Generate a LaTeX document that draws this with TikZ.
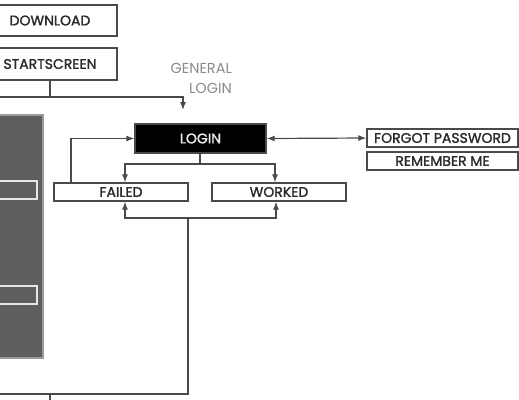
\documentclass[tikz,border=0pt]{standalone}
\usepackage{fontspec}
\setmainfont{Poppins}
\newfontfamily\labelfont{Poppins}[FakeBold=1.5]
\usetikzlibrary{arrows.meta}
\definecolor{ink}{HTML}{2A2A2A}
\definecolor{wire}{HTML}{4A4A4A}
\definecolor{panel}{HTML}{5E5E60}
\definecolor{paneledge}{HTML}{9A9A9A}
\definecolor{soft}{HTML}{8A8A8A}
\tikzset{
  box/.style={draw=wire, line width=1.3pt, fill=white, text=ink, inner sep=0pt,
              font=\labelfont\fontsize{14}{15}\selectfont},
  darkbox/.style={draw=wire, line width=1.3pt, fill=black, text=white!85!gray, inner sep=0pt,
              font=\labelfont\fontsize{14}{15}\selectfont},
  innerbox/.style={draw=white!80!gray, line width=1.1pt, fill=panel, inner sep=0pt},
  wire/.style={draw=wire, line width=1.2pt},
  arr/.style={wire, -{Latex[length=8pt,width=6pt]}},
  darr/.style={wire, {Latex[length=8pt,width=6pt]}-{Latex[length=8pt,width=6pt]}},
  note/.style={text=soft, align=right, font=\fontsize{14.5}{20}\selectfont, inner sep=0pt}
}
\begin{document}
\begin{tikzpicture}[x=1pt, y=-1pt]
\useasboundingbox (0,0) rectangle (519,399);
\clip (0,0) rectangle (519,399);

% side panel with its two entries
\node[draw=paneledge, line width=1.3pt, fill=panel, minimum width=80pt, minimum height=243pt] (panel) at (3,236.5) {};
\node[innerbox, minimum width=60pt, minimum height=18pt] (entryA) at (7,190) {};
\node[innerbox, minimum width=60pt, minimum height=18pt] (entryB) at (7,295) {};

% top of the flow
\node[box, minimum width=134pt, minimum height=31pt] (download) at (50,20.5) {DOWNLOAD};
\node[box, minimum width=134pt, minimum height=32pt] (start) at (50,64) {STARTSCREEN};
\node[note, anchor=north east] (general) at (232,63) {GENERAL\\LOGIN};

% login and its outcomes
\node[darkbox, minimum width=131pt, minimum height=29pt] (login) at (200.5,138.5) {LOGIN};
\node[box, minimum width=134pt, minimum height=18pt] (failed) at (121,192) {FAILED};
\node[box, minimum width=134pt, minimum height=18pt] (worked) at (279,192) {WORKED};
\node[box, minimum width=151pt, minimum height=18pt] (forgot) at (442.5,138) {FORGOT PASSWORD};
\node[box, minimum width=151pt, minimum height=18pt] (remember) at (442.5,161) {REMEMBER ME};

% junction points and free ends
\coordinate (offTop) at (-20,97);
\coordinate (glTip) at (183,110);
\coordinate (split) at (200,164);
\coordinate (merge) at (188,218);
\coordinate (offBot) at (-20,394);
\coordinate (tickEnd) at (50,405);

% start screen into general login
\draw[wire] (start.south) -- (start.south |- offTop);
\draw[arr] (offTop) -| (glTip);

% login splits into failed / worked
\draw[wire] (login.south -| split) -- (split);
\draw[arr] (split) -| ([xshift=4pt]failed.north);
\draw[arr] (split) -| ([xshift=-4pt]worked.north);

% failed loops back to login
\draw[arr] ([xshift=-50pt]failed.north) |- (login.west);

% login to forgot password
\draw[darr] (login.east) -- (forgot.west);

% results returning from below
\draw[arr] (merge) -| ([xshift=4pt]failed.south);
\draw[arr] (merge) -| ([xshift=-3pt]worked.south);
\draw[wire] (merge) |- (offBot);
\draw[wire] (offBot -| tickEnd) -- (tickEnd);
\end{tikzpicture}
\end{document}
